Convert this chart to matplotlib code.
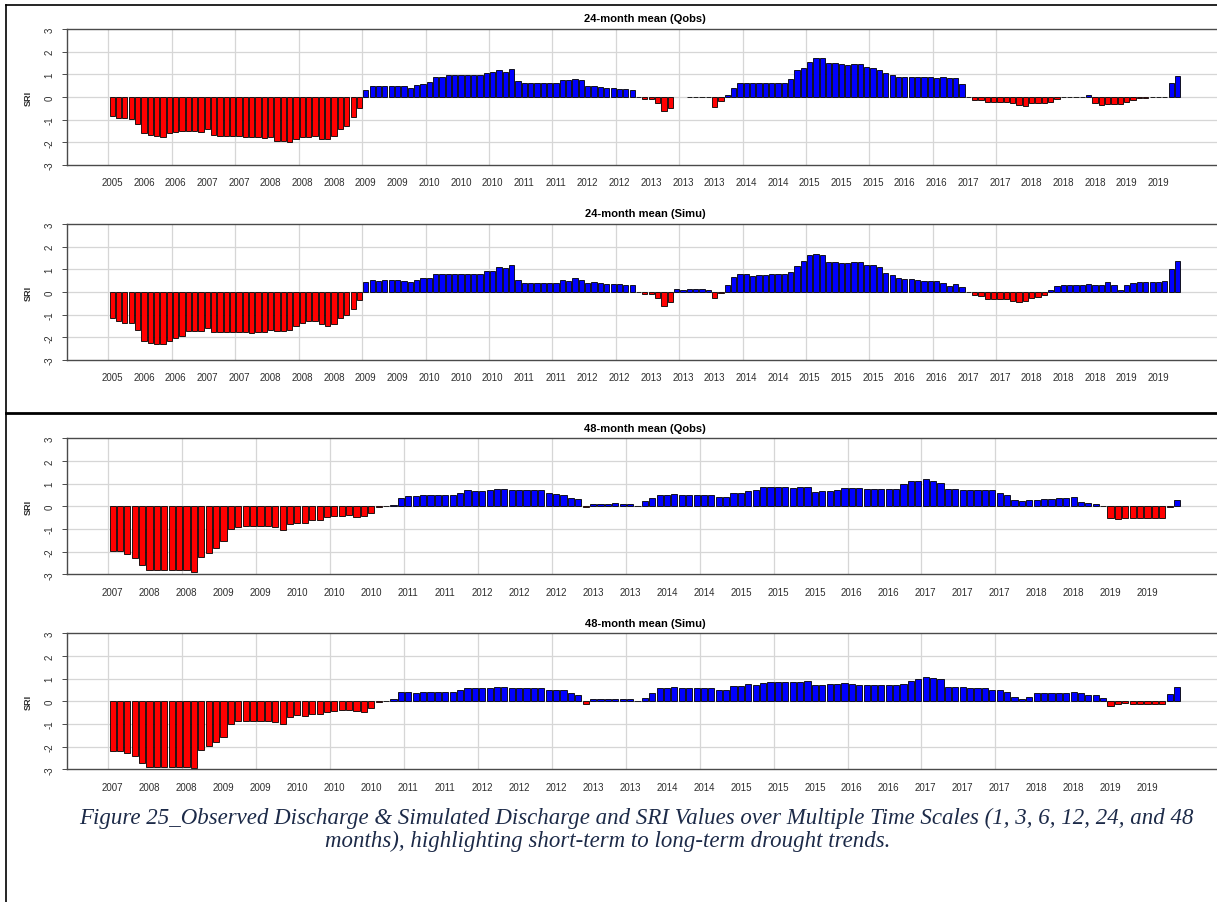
import numpy as np
import matplotlib
matplotlib.use("Agg")
import matplotlib.pyplot as plt
from matplotlib.lines import Line2D

nan = float("nan")

# x-axis labels as R printed them (every 5th month)
labels_24 = ["2005", "2006", "2006", "2007", "2007", "2008", "2008", "2008", "2009", "2009",
             "2010", "2010", "2010", "2011", "2011", "2012", "2012", "2013", "2013", "2013",
             "2014", "2014", "2015", "2015", "2015", "2016", "2016", "2017", "2017", "2018",
             "2018", "2018", "2019", "2019"]
labels_48 = ["2007", "2008", "2008", "2009", "2009", "2010", "2010", "2010", "2011", "2011",
             "2012", "2012", "2012", "2013", "2013", "2014", "2014", "2015", "2015", "2015",
             "2016", "2016", "2017", "2017", "2017", "2018", "2018", "2019", "2019"]

# SRI-24, observed discharge (monthly, Dec 2005 - Dec 2019)
obs_24 = [
    -0.85, -0.92, -0.92, -0.97, -1.17, -1.60, -1.68, -1.72, -1.75, -1.57,
    -1.55, -1.50, -1.50, -1.50, -1.55, -1.42, -1.68, -1.72, -1.72, -1.72,
    -1.72, -1.75, -1.75, -1.75, -1.82, -1.75, -1.93, -1.93, -1.97, -1.85,
    -1.78, -1.78, -1.72, -1.85, -1.85, -1.72, -1.42, -1.27, -0.90, -0.48,
    0.33, 0.47, 0.47, 0.47, 0.47, 0.47, 0.47, 0.40, 0.52, 0.58,
    0.65, 0.87, 0.90, 0.97, 0.97, 0.97, 0.97, 0.97, 0.97, 1.08,
    1.10, 1.18, 1.10, 1.22, 0.70, 0.62, 0.62, 0.62, 0.62, 0.62,
    0.62, 0.75, 0.75, 0.80, 0.75, 0.50, 0.50, 0.45, 0.40, 0.40,
    0.35, 0.35, 0.30, 0.02, -0.07, -0.10, -0.25, -0.60, -0.47, nan,
    nan, 0.00, 0.00, 0.00, 0.00, -0.42, -0.18, 0.10, 0.38, 0.60,
    0.62, 0.62, 0.62, 0.62, 0.62, 0.62, 0.62, 0.80, 1.20, 1.30,
    1.55, 1.72, 1.72, 1.48, 1.48, 1.45, 1.42, 1.45, 1.45, 1.33,
    1.30, 1.20, 1.05, 0.95, 0.90, 0.88, 0.88, 0.88, 0.88, 0.88,
    0.85, 0.90, 0.82, 0.82, 0.58, 0.02, -0.12, -0.15, -0.20, -0.20,
    -0.20, -0.22, -0.27, -0.35, -0.38, -0.28, -0.28, -0.28, -0.20, -0.10,
    -0.02, 0.00, 0.00, 0.00, 0.07, -0.28, -0.35, -0.32, -0.32, -0.32,
    -0.22, -0.12, -0.05, -0.05, -0.02, 0.00, 0.02, 0.62, 0.93,
]

# SRI-24, simulated discharge
sim_24 = [
    -1.15, -1.28, -1.35, -1.35, -1.68, -2.15, -2.25, -2.30, -2.30, -2.18,
    -2.05, -1.95, -1.72, -1.72, -1.72, -1.60, -1.78, -1.78, -1.75, -1.75,
    -1.75, -1.78, -1.82, -1.78, -1.78, -1.68, -1.72, -1.72, -1.68, -1.48,
    -1.35, -1.28, -1.28, -1.40, -1.50, -1.40, -1.15, -1.02, -0.75, -0.35,
    0.42, 0.52, 0.48, 0.52, 0.52, 0.52, 0.50, 0.42, 0.55, 0.62,
    0.62, 0.78, 0.78, 0.80, 0.78, 0.78, 0.78, 0.80, 0.80, 0.92,
    0.92, 1.10, 1.05, 1.18, 0.52, 0.40, 0.40, 0.40, 0.40, 0.40,
    0.40, 0.52, 0.48, 0.60, 0.55, 0.40, 0.42, 0.38, 0.35, 0.35,
    0.35, 0.33, 0.30, 0.00, -0.07, -0.08, -0.25, -0.62, -0.42, 0.12,
    0.08, 0.12, 0.12, 0.12, 0.10, -0.25, -0.05, 0.32, 0.65, 0.80,
    0.80, 0.72, 0.75, 0.75, 0.78, 0.78, 0.78, 0.88, 1.15, 1.38,
    1.62, 1.68, 1.62, 1.33, 1.33, 1.30, 1.30, 1.33, 1.33, 1.20,
    1.18, 1.12, 0.85, 0.75, 0.62, 0.58, 0.58, 0.52, 0.50, 0.50,
    0.50, 0.40, 0.25, 0.35, 0.22, 0.00, -0.12, -0.18, -0.30, -0.30,
    -0.30, -0.32, -0.38, -0.45, -0.40, -0.25, -0.20, -0.12, 0.10, 0.28,
    0.30, 0.30, 0.33, 0.33, 0.35, 0.33, 0.30, 0.42, 0.30, 0.10,
    0.30, 0.38, 0.42, 0.42, 0.45, 0.45, 0.48, 1.00, 1.38,
]

# SRI-48, observed discharge (monthly, Dec 2007 - Dec 2019)
obs_48 = [
    -1.98, -1.98, -2.12, -2.30, -2.58, -2.80, -2.80, -2.80, -2.80, -2.80,
    -2.80, -2.88, -2.22, -2.05, -1.85, -1.55, -1.02, -0.92, -0.88, -0.88,
    -0.88, -0.88, -0.92, -1.05, -0.78, -0.72, -0.75, -0.60, -0.60, -0.45,
    -0.42, -0.42, -0.38, -0.45, -0.42, -0.30, -0.05, 0.00, 0.05, 0.38,
    0.45, 0.45, 0.48, 0.48, 0.48, 0.48, 0.48, 0.60, 0.70, 0.68,
    0.68, 0.72, 0.75, 0.75, 0.72, 0.72, 0.72, 0.72, 0.72, 0.60,
    0.55, 0.50, 0.38, 0.32, -0.05, 0.12, 0.12, 0.12, 0.15, 0.12,
    0.10, 0.02, 0.25, 0.38, 0.50, 0.50, 0.53, 0.48, 0.48, 0.48,
    0.48, 0.48, 0.42, 0.40, 0.60, 0.60, 0.68, 0.72, 0.85, 0.85,
    0.85, 0.85, 0.82, 0.85, 0.85, 0.62, 0.68, 0.68, 0.72, 0.80,
    0.82, 0.80, 0.78, 0.78, 0.78, 0.78, 0.78, 1.00, 1.12, 1.12,
    1.20, 1.12, 1.05, 0.78, 0.78, 0.72, 0.72, 0.72, 0.72, 0.72,
    0.60, 0.50, 0.30, 0.22, 0.28, 0.30, 0.33, 0.33, 0.35, 0.35,
    0.40, 0.20, 0.15, 0.12, 0.00, -0.50, -0.55, -0.50, -0.50, -0.50,
    -0.50, -0.50, -0.50, -0.03, 0.26,
]

# SRI-48, simulated discharge
sim_48 = [
    -2.18, -2.18, -2.28, -2.42, -2.72, -2.90, -2.90, -2.90, -2.90, -2.90,
    -2.90, -2.95, -2.15, -1.98, -1.78, -1.58, -0.98, -0.88, -0.88, -0.88,
    -0.88, -0.88, -0.92, -0.98, -0.68, -0.62, -0.65, -0.58, -0.58, -0.48,
    -0.42, -0.38, -0.38, -0.42, -0.45, -0.30, -0.05, 0.03, 0.10, 0.42,
    0.42, 0.38, 0.42, 0.42, 0.42, 0.42, 0.42, 0.52, 0.60, 0.60,
    0.60, 0.60, 0.65, 0.65, 0.60, 0.60, 0.60, 0.60, 0.60, 0.52,
    0.50, 0.50, 0.35, 0.30, -0.12, 0.10, 0.12, 0.12, 0.12, 0.12,
    0.12, 0.02, 0.15, 0.38, 0.58, 0.58, 0.65, 0.58, 0.58, 0.58,
    0.58, 0.58, 0.52, 0.48, 0.68, 0.68, 0.78, 0.72, 0.80, 0.85,
    0.85, 0.85, 0.85, 0.85, 0.88, 0.70, 0.72, 0.75, 0.75, 0.80,
    0.78, 0.70, 0.72, 0.72, 0.72, 0.72, 0.72, 0.78, 0.90, 1.00,
    1.07, 1.02, 1.00, 0.65, 0.62, 0.62, 0.58, 0.58, 0.58, 0.50,
    0.52, 0.42, 0.20, 0.12, 0.20, 0.35, 0.38, 0.38, 0.38, 0.38,
    0.42, 0.38, 0.30, 0.30, 0.15, -0.22, -0.12, -0.08, -0.12, -0.12,
    -0.12, -0.12, -0.12, 0.32, 0.65,
]

CAPTION_1 = ("Figure 25_Observed Discharge & Simulated Discharge and SRI Values over "
             "Multiple Time Scales (1, 3, 6, 12, 24, and 48")
CAPTION_2 = "months), highlighting short-term to long-term drought trends."

W, H = 1217, 903
RED, BLUE = "#ff0000", "#0000ff"
GRID, BOX, TXT = "#d6d6d6", "#4a4a4a", "#2e2e2e"
plt.rcParams["font.family"] = ["Liberation Sans", "DejaVu Sans"]

fig = plt.figure(figsize=(W / 100, H / 100), dpi=100)
fig.patch.set_facecolor("white")

AX_L, AX_R, AX_H = 66.7, 1223.0, 136.0   # plot region in pixels (runs past the right edge)


def panel(top, title, vals, labels, last_grid):
    vals = np.asarray(vals, dtype=float)
    n = len(vals)
    x = 0.7 + 1.2 * np.arange(n)          # R barplot positions, space = 0.2
    ax = fig.add_axes([AX_L / W, 1 - (top + AX_H) / H, (AX_R - AX_L) / W, AX_H / H])
    span = 1.2 * n - 0.2
    ax.set_xlim(0.2 - 0.04 * span, 1.2 * n + 0.04 * span)
    ax.set_ylim(-3, 3)
    for yv in (-2, -1, 0, 1, 2):
        ax.axhline(yv, color=GRID, lw=0.9, zorder=1)
    for k in range(0, last_grid + 1, 10):
        ax.axvline(x[k] - 0.7, color=GRID, lw=0.9, zorder=1)
    ok = ~np.isnan(vals)
    cols = np.where(vals[ok] < 0, RED, BLUE)
    ax.bar(x[ok], vals[ok], width=1.0, color=cols, edgecolor="black",
           linewidth=0.6, zorder=2)

    for s in ("top", "bottom", "left"):
        ax.spines[s].set_color(BOX)
        ax.spines[s].set_linewidth(1.0)
    ax.spines["right"].set_visible(False)

    ax.set_xticks(x[::5][:len(labels)])
    ax.set_xticklabels(labels)
    ax.tick_params(axis="x", length=0, pad=9, labelsize=7, labelcolor=TXT)
    ax.set_yticks(range(-3, 4))
    ax.set_yticklabels([str(v) for v in range(-3, 4)])
    ax.tick_params(axis="y", length=3.6, width=0.7, color=BOX, pad=5.0,
                   labelsize=7, labelcolor=TXT, labelrotation=90)
    for lab in ax.get_yticklabels():
        lab.set_va("center")

    ax.annotate(title, xy=(0.5, 1), xycoords="axes fraction", xytext=(0, 7.6),
                textcoords="offset points", ha="center", va="center",
                fontsize=8, fontweight="bold", color="black")
    fig.text(28 / W, 1 - (top + AX_H / 2) / H, "SRI", rotation=90, ha="center",
             va="center", fontsize=6.6, fontweight="bold", color=TXT)
    return ax


panel(30.0, "24-month mean (Qobs)", obs_24, labels_24, 140)
panel(225.0, "24-month mean (Simu)", sim_24, labels_24, 140)
panel(439.3, "48-month mean (Qobs)", obs_48, labels_48, 120)
panel(634.3, "48-month mean (Simu)", sim_48, labels_48, 120)


def fig_line(x0, y0, x1, y1, lw):
    fig.add_artist(Line2D([x0 / W, x1 / W], [1 - y0 / H, 1 - y1 / H],
                          transform=fig.transFigure, color="black", lw=lw))


fig_line(6, 6, W, 6, 1.2)        # top border
fig_line(6, 6, 6, H, 1.2)        # left border
fig_line(6, 414, W, 414, 2.0)    # separator between the two figure blocks

cap = dict(family=["Liberation Serif", "DejaVu Serif"], style="italic",
           fontsize=16.5, color="#1c2a48", ha="center", va="center")
fig.text(636 / W, 1 - 818 / H, CAPTION_1, **cap)
fig.text(608 / W, 1 - 841 / H, CAPTION_2, **cap)

fig.savefig("out.png", dpi=100)
